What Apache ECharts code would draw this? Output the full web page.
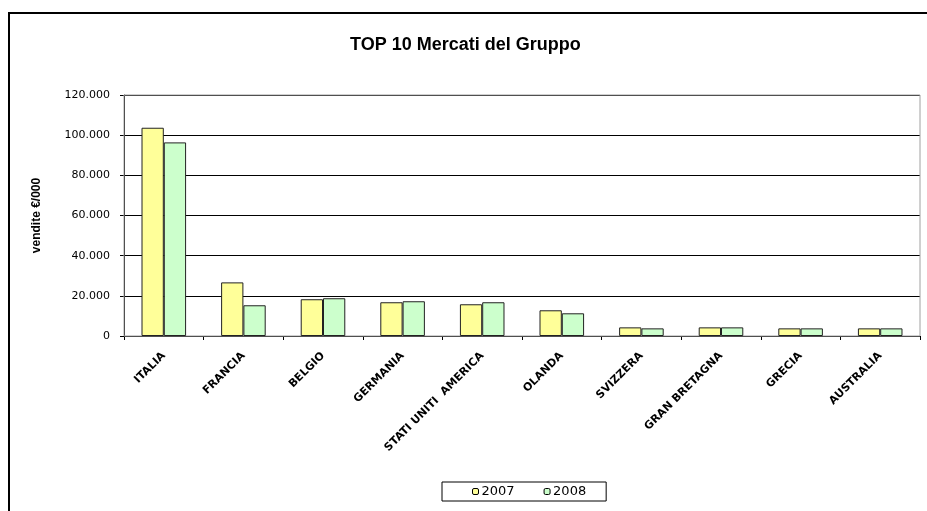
<!DOCTYPE html>
<html>
<head>
<meta charset="utf-8">
<script src="https://cdn.jsdelivr.net/npm/echarts@6/dist/echarts.min.js"></script>
<style>
html,body{margin:0;padding:0;background:#fff;}
#chart{width:927px;height:511px;}
</style>
</head>
<body>
<div id="chart"></div>
<script>
const categories = ['ITALIA','FRANCIA','BELGIO','GERMANIA','STATI UNITI  AMERICA','OLANDA','SVIZZERA','GRAN BRETAGNA','GRECIA','AUSTRALIA'];
const values2007 = [103700, 26700, 18300, 16800, 15800, 12800, 4300, 4300, 3800, 3800];
const values2008 = [96400, 15300, 18800, 17300, 16800, 11300, 3800, 4300, 3800, 3800];
const yTicks = [0, 20000, 40000, 60000, 80000, 100000, 120000];

const font = '"Liberation Sans", Arial, sans-serif';
const wide = '"DejaVu Sans", sans-serif';
const chart = echarts.init(document.getElementById('chart'));
chart.setOption({
  backgroundColor: '#fff',
  animation: false,
  title: {
    text: 'TOP 10 Mercati del Gruppo',
    left: 345,
    top: 31,
    textStyle: {fontFamily: font, fontSize: 18, fontWeight: 'bold', color: '#000'}
  },
  legend: {
    left: 442,
    top: 482,
    padding: [3, 20, 3, 30],
    itemWidth: 6,
    itemHeight: 6,
    itemGap: 29,
    borderColor: '#000',
    borderWidth: 1,
    textStyle: {fontFamily: wide, fontSize: 13, color: '#000', padding: [0, 0, 0, -2]},
    data: [
      {name: '2007', itemStyle: {color: '#FFFF99', borderColor: '#000', borderWidth: 1}},
      {name: '2008', itemStyle: {color: '#CCFFCC', borderColor: '#000', borderWidth: 1}}
    ]
  },
  graphic: [{
    type: 'rect',
    shape: {x: 9, y: 13, width: 940, height: 520},
    style: {fill: 'none', stroke: '#000', lineWidth: 2},
    silent: true
  }, {
    type: 'rect',
    shape: {x: 124, y: 95, width: 796, height: 241},
    style: {fill: 'none', stroke: '#a0a0a0', lineWidth: 1},
    silent: true, z: 1
  }],
  grid: {left: 124, right: 7, top: 95, bottom: 175},
  xAxis: {
    type: 'category',
    data: categories,
    axisLine: {lineStyle: {color: '#000', width: 1}},
    axisTick: {show: true, length: 4, lineStyle: {color: '#000'}},
    axisLabel: {
      rotate: 45, interval: 0, margin: 18,
      fontFamily: wide, fontSize: 11, fontWeight: 'bold', color: '#000'
    }
  },
  yAxis: {
    type: 'value',
    min: 0, max: 120000, interval: 20000,
    name: 'vendite €/000',
    nameLocation: 'middle',
    nameGap: 81,
    nameRotate: 90,
    nameTextStyle: {fontFamily: font, fontSize: 12, fontWeight: 'bold', color: '#000'},
    axisLine: {show: true, lineStyle: {color: '#000'}},
    axisTick: {show: true, length: 4, lineStyle: {color: '#000'}},
    splitLine: {lineStyle: {color: '#000', width: 1}},
    axisLabel: {
      margin: 14,
      fontFamily: wide, fontSize: 11, color: '#000',
      formatter: v => yTicks.includes(v) ? (v === 0 ? '0' : (v/1000) + '.000') : ''
    }
  },
  series: [
    {name: '2007', type: 'bar', data: values2007, barGap: '0%', barCategoryGap: '44%',
     itemStyle: {color: '#FFFF99', borderColor: '#222', borderWidth: 1}},
    {name: '2008', type: 'bar', data: values2008,
     itemStyle: {color: '#CCFFCC', borderColor: '#222', borderWidth: 1}}
  ]
});
</script>
</body>
</html>
